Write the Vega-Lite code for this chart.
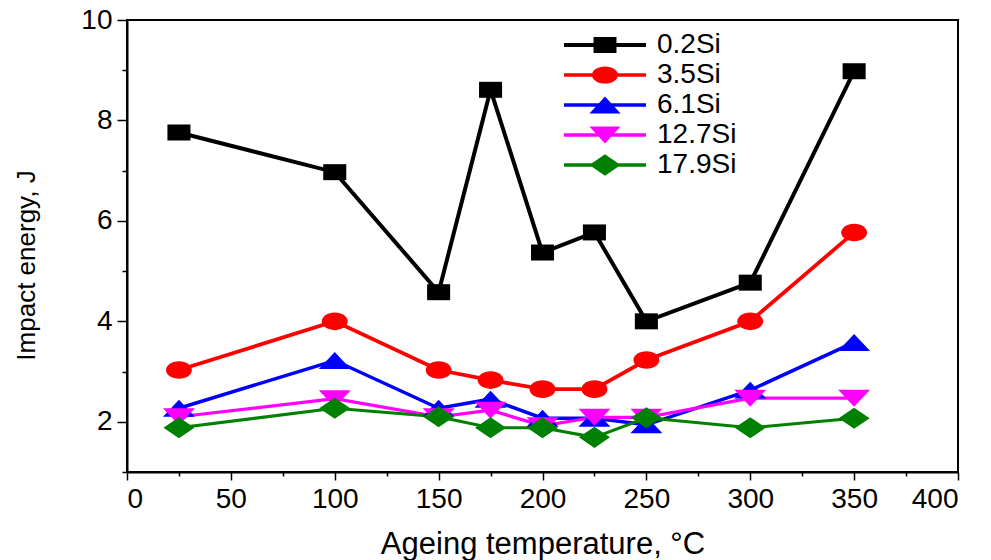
{
  "$schema": "https://vega.github.io/schema/vega-lite/v6.json",
  "autosize": {"type": "none"},
  "width": 831,
  "height": 452,
  "padding": {"left": 127, "top": 20, "right": 33, "bottom": 88},
  "background": "white",
  "config": {
    "view": {"stroke": "black", "strokeWidth": 2},
    "axis": {"grid": false, "domainColor": "black", "domainWidth": 2, "tickColor": "black", "tickWidth": 1.5, "labelColor": "black", "titleColor": "black", "labelFont": "Liberation Sans", "titleFont": "Liberation Sans", "titleFontWeight": "normal"},
    "legend": {"labelFont": "Liberation Sans"}
  },
  "data": {
    "values": [
      {"T": 25, "E": 7.76, "s": "0.2Si"},
      {"T": 100, "E": 6.97, "s": "0.2Si"},
      {"T": 150, "E": 4.58, "s": "0.2Si"},
      {"T": 175, "E": 8.61, "s": "0.2Si"},
      {"T": 200, "E": 5.37, "s": "0.2Si"},
      {"T": 225, "E": 5.77, "s": "0.2Si"},
      {"T": 250, "E": 4.0, "s": "0.2Si"},
      {"T": 300, "E": 4.77, "s": "0.2Si"},
      {"T": 350, "E": 8.98, "s": "0.2Si"},
      {"T": 25, "E": 3.03, "s": "3.5Si"},
      {"T": 100, "E": 4.0, "s": "3.5Si"},
      {"T": 150, "E": 3.03, "s": "3.5Si"},
      {"T": 175, "E": 2.83, "s": "3.5Si"},
      {"T": 200, "E": 2.65, "s": "3.5Si"},
      {"T": 225, "E": 2.65, "s": "3.5Si"},
      {"T": 250, "E": 3.23, "s": "3.5Si"},
      {"T": 300, "E": 4.0, "s": "3.5Si"},
      {"T": 350, "E": 5.77, "s": "3.5Si"},
      {"T": 25, "E": 2.27, "s": "6.1Si"},
      {"T": 100, "E": 3.22, "s": "6.1Si"},
      {"T": 150, "E": 2.27, "s": "6.1Si"},
      {"T": 175, "E": 2.45, "s": "6.1Si"},
      {"T": 200, "E": 2.07, "s": "6.1Si"},
      {"T": 225, "E": 2.07, "s": "6.1Si"},
      {"T": 250, "E": 1.94, "s": "6.1Si"},
      {"T": 300, "E": 2.63, "s": "6.1Si"},
      {"T": 350, "E": 3.58, "s": "6.1Si"},
      {"T": 25, "E": 2.1, "s": "12.7Si"},
      {"T": 100, "E": 2.46, "s": "12.7Si"},
      {"T": 150, "E": 2.1, "s": "12.7Si"},
      {"T": 175, "E": 2.23, "s": "12.7Si"},
      {"T": 200, "E": 1.92, "s": "12.7Si"},
      {"T": 225, "E": 2.09, "s": "12.7Si"},
      {"T": 250, "E": 2.09, "s": "12.7Si"},
      {"T": 300, "E": 2.47, "s": "12.7Si"},
      {"T": 350, "E": 2.47, "s": "12.7Si"},
      {"T": 25, "E": 1.88, "s": "17.9Si"},
      {"T": 100, "E": 2.27, "s": "17.9Si"},
      {"T": 150, "E": 2.1, "s": "17.9Si"},
      {"T": 175, "E": 1.88, "s": "17.9Si"},
      {"T": 200, "E": 1.88, "s": "17.9Si"},
      {"T": 225, "E": 1.69, "s": "17.9Si"},
      {"T": 250, "E": 2.08, "s": "17.9Si"},
      {"T": 300, "E": 1.88, "s": "17.9Si"},
      {"T": 350, "E": 2.07, "s": "17.9Si"}
    ]
  },
  "resolve": {
    "scale": {"shape": "independent", "color": "independent"},
    "legend": {"color": "independent", "shape": "independent"}
  },
  "layer": [
    {
      "mark": {"type": "line"},
      "encoding": {
        "x": {"field": "T", "type": "quantitative", "scale": {"domain": [0, 400], "nice": false, "zero": false},
          "axis": {"orient": "bottom", "values": [0, 25, 50, 75, 100, 125, 150, 175, 200, 225, 250, 275, 300, 325, 350, 375, 400],
            "tickSize": {"condition": {"test": "datum.value % 50 === 0", "value": 8}, "value": 4},
            "labelExpr": "datum.value % 50 === 0 ? datum.label : ''",
            "labelFontSize": 28, "labelPadding": 5, "title": "Ageing temperature, °C", "titleFontSize": 31, "titleBaseline": "alphabetic", "titleY": 81}},
        "y": {"field": "E", "type": "quantitative", "scale": {"domain": [1, 10], "nice": false, "zero": false},
          "axis": {"orient": "left", "values": [1, 2, 3, 4, 5, 6, 7, 8, 9, 10],
            "tickSize": {"condition": {"test": "datum.value % 2 === 0", "value": 10}, "value": 5},
            "labelExpr": "datum.value % 2 === 0 ? datum.label : ''",
            "labelFontSize": 28, "labelPadding": 5, "title": "Impact energy, J", "titleFontSize": 26, "titleAngle": -90, "titleX": -101, "titleY": 245, "titleAlign": "center", "titleBaseline": "middle"}},
        "color": {"field": "s", "type": "nominal", "sort": null,
          "scale": {"domain": ["0.2Si", "3.5Si", "6.1Si", "12.7Si", "17.9Si"], "range": ["#000000", "#ff0000", "#0000ff", "#ff00ff", "#008000"]}, "legend": null},
        "strokeWidth": {"field": "s", "type": "nominal",
          "scale": {"domain": ["0.2Si", "3.5Si", "6.1Si", "12.7Si", "17.9Si"], "range": [4, 3, 3, 3, 3]}, "legend": null},
        "order": {"field": "T", "type": "quantitative"}
      }
    },
    {
      "mark": {"type": "point", "filled": true, "opacity": 1, "size": 1024, "strokeWidth": 0},
      "encoding": {
        "x": {"field": "T", "type": "quantitative"},
        "y": {"field": "E", "type": "quantitative"},
        "color": {"field": "s", "type": "nominal", "sort": null, "legend": null,
          "scale": {"domain": ["0.2Si", "3.5Si", "6.1Si", "12.7Si", "17.9Si"], "range": ["#000000", "#ff0000", "#0000ff", "#ff00ff", "#008000"]}},
        "shape": {"field": "s", "type": "nominal", "sort": null, "legend": null,
          "scale": {"domain": ["0.2Si", "3.5Si", "6.1Si", "12.7Si", "17.9Si"],
            "range": [
              "M-0.72,-0.5H0.72V0.5H-0.72Z",
              "M-0.81,0A0.81,0.55 0 0,1 0.81,0A0.81,0.55 0 0,1 -0.81,0Z",
              "M0,-0.53L1,0.53L-1,0.53Z",
              "M-1,-0.53L1,-0.53L0,0.53Z",
              "M0,-0.66L0.97,0L0,0.66L-0.97,0Z"
            ]}}
      }
    },
    {
      "transform": [{"filter": "datum.T < 0"}],
      "mark": {"type": "point", "filled": true, "opacity": 1, "strokeWidth": 0},
      "encoding": {
        "color": {"field": "s", "type": "nominal", "sort": null,
          "scale": {"domain": ["0.2Si", "3.5Si", "6.1Si", "12.7Si", "17.9Si"], "range": ["#000000", "#ff0000", "#0000ff", "#ff00ff", "#008000"]},
          "legend": {"title": null, "orient": "none", "legendX": 437, "legendY": 11, "symbolSize": 6724, "symbolStrokeWidth": 0, "symbolOpacity": 1, "labelFontSize": 28, "labelOffset": 11, "labelColor": "black", "clipHeight": 28, "rowPadding": 2, "padding": 0, "symbolOffset": 0}},
        "shape": {"field": "s", "type": "nominal", "sort": null,
          "scale": {"domain": ["0.2Si", "3.5Si", "6.1Si", "12.7Si", "17.9Si"],
            "range": [
              "M-1,-0.05H1V0.05H-1Z M-0.28,-0.195H0.28V0.195H-0.28Z",
              "M-1,-0.04H1V0.04H-1Z M-0.32,0A0.32,0.21 0 0,1 0.32,0A0.32,0.21 0 0,1 -0.32,0Z",
              "M-1,-0.04H1V0.04H-1Z M0,-0.21L0.38,0.21L-0.38,0.21Z",
              "M-1,-0.04H1V0.04H-1Z M-0.38,-0.21L0.38,-0.21L0,0.21Z",
              "M-1,-0.04H1V0.04H-1Z M0,-0.26L0.38,0L0,0.26L-0.38,0Z"
            ]},
          "legend": {"title": null, "orient": "none", "legendX": 437, "legendY": 11, "symbolSize": 6724, "symbolStrokeWidth": 0, "symbolOpacity": 1, "labelFontSize": 28, "labelOffset": 11, "labelColor": "black", "clipHeight": 28, "rowPadding": 2, "padding": 0, "symbolOffset": 0}}
      }
    }
  ]
}
